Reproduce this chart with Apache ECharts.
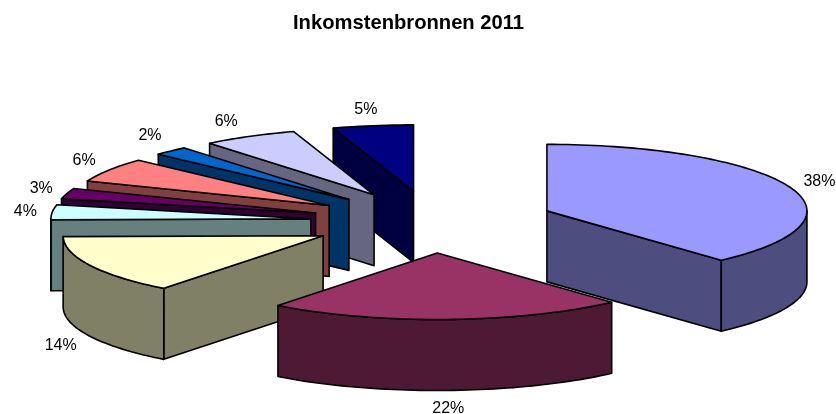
<!DOCTYPE html>
<html>
<head>
<meta charset="utf-8">
<style>html,body{margin:0;padding:0;background:#fff}#c{width:836px;height:414px}</style>
<script src="https://cdn.jsdelivr.net/npm/echarts@6/dist/echarts.min.js"></script>
</head>
<body>
<div id="c"></div>
<script>
const chartTitle = 'Inkomstenbronnen 2011';
const shares = [38.3, 22.2, 14.3, 3.6, 2.6, 5.9, 2.2, 5.9, 5.0];
const topColors = ['#9999FF', '#993366', '#FFFFCC', '#CCFFFF', '#660066', '#FF8080', '#0066CC', '#CCCCFF', '#000080'];
const wallColors = ['#4D4D80', '#4D1933', '#808066', '#668080', '#330033', '#804040', '#003366', '#666680', '#000040'];

// Projection of the tilted, exploded pie
const cx = 432.7, cy = 222, rx = 260, ry = 66.5, depth = 71;
const explodeX = 122.4, explodeY = 31, labelGapX = 32, labelGapY = 20;
const labelNudge = [[0, 2], [0, -2], [-1, 0], [5, 1], [5, 1], [2, 1], [1, -1], [-8, 3], [-2, 4]];
const RAD = Math.PI / 180;
const total = shares.reduce((a, b) => a + b, 0);

function slice(i) {
  const before = shares.slice(0, i).reduce((a, b) => a + b, 0);
  const a = before / total * 360, b = (before + shares[i]) / total * 360, mid = (a + b) / 2;
  return {
    a, b, mid,
    x: cx + explodeX * Math.sin(mid * RAD),
    y: cy - explodeY * Math.cos(mid * RAD)
  };
}
function rim(s, deg, down) {
  return [s.x + rx * Math.sin(deg * RAD), s.y - ry * Math.cos(deg * RAD) + (down || 0)];
}
function arc(s, from, to, down) {
  const pts = [], n = Math.max(2, Math.ceil((to - from) / 1.5));
  for (let k = 0; k <= n; k++) pts.push(rim(s, from + (to - from) * k / n, down));
  return pts;
}
const order = shares.map((_, i) => i).sort((p, q) => slice(p).y - slice(q).y);

function renderItem(params, api) {
  const i = params.dataIndex;
  const s = slice(i);
  const z = order.indexOf(i) * 10 + 1;
  const poly = (points, fill, dz) => ({
    type: 'polygon', shape: { points }, z2: z + dz,
    style: { fill, stroke: '#000', lineWidth: 1.6, lineJoin: 'round' }
  });
  const children = [];
  const wall = deg => {
    const e = rim(s, deg), f = rim(s, deg, depth);
    return [[s.x, s.y], e, f, [s.x, s.y + depth]];
  };
  if (s.a >= 180 && s.a < 360) children.push(poly(wall(s.a), wallColors[i], 0));
  if (s.b > 0 && s.b <= 180) children.push(poly(wall(s.b), wallColors[i], 1));
  const from = Math.max(s.a, 90), to = Math.min(s.b, 270);
  if (to > from) {
    children.push(poly(arc(s, from, to, 0).concat(arc(s, from, to, depth).reverse()), wallColors[i], 2));
  }
  children.push(poly([[s.x, s.y]].concat(arc(s, s.a, s.b, 0)), topColors[i], 3));
  const sinM = Math.sin(s.mid * RAD), cosM = Math.cos(s.mid * RAD);
  children.push({
    type: 'text', z2: 500,
    style: {
      text: Math.round(api.value(0) / total * 100) + '%',
      x: s.x + (rx + labelGapX) * sinM + labelNudge[i][0],
      y: s.y - (ry + labelGapY) * cosM + (cosM < 0 ? depth : 0) + labelNudge[i][1],
      align: 'center', verticalAlign: 'middle',
      fill: '#000', font: '16px "Liberation Sans", Arial, sans-serif'
    }
  });
  return { type: 'group', children };
}

const chart = echarts.init(document.getElementById('c'), null, { renderer: 'canvas' });
chart.setOption({
  animation: false,
  backgroundColor: '#fff',
  title: {
    text: chartTitle, left: 288, top: 8,
    textStyle: { fontFamily: '"Liberation Sans", Arial, sans-serif', fontSize: 20.2, fontWeight: 'bold', color: '#000' }
  },
  series: [{
    type: 'custom',
    coordinateSystem: 'none',
    renderItem,
    data: shares.map(v => [v])
  }]
});
</script>
</body>
</html>
